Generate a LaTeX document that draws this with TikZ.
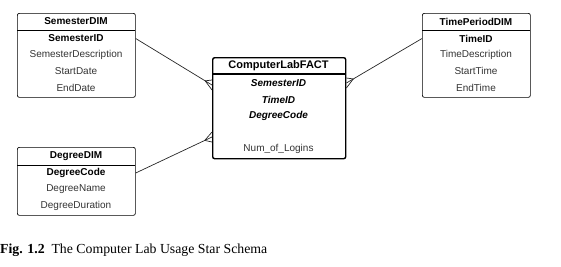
\documentclass[tikz,border=0pt]{standalone}
\usepackage{fontspec}
\setmainfont{Liberation Sans}
\newfontfamily\capfont{Liberation Serif}
\usetikzlibrary{arrows.meta,calc}

\definecolor{rowgray}{HTML}{333333}

\tikzset{
  dimbox/.style={draw, rounded corners=2pt, line width=0.7pt, anchor=north west,
    inner sep=0pt, minimum width=118pt, minimum height=84pt},
  factbox/.style={draw, rounded corners=2pt, line width=1.4pt, anchor=north west,
    inner sep=0pt, minimum width=133pt, minimum height=101pt},
  title/.style={font=\bfseries\fontsize{10}{12}\selectfont, inner sep=1pt},
  keyrow/.style={font=\bfseries\fontsize{10}{12}\selectfont, inner sep=1pt},
  fkrow/.style={font=\bfseries\itshape\fontsize{10}{12}\selectfont, inner sep=1pt},
  row/.style={font=\fontsize{10}{12}\selectfont, text=rowgray, inner sep=1pt},
  rel/.style={line width=0.7pt, draw=black!85}
}

% crow's foot at the many end #2 of a line coming from #1
\newcommand{\crowfoot}[2]{%
  \draw[rel] ($(#2)!8pt!(#1)$) -- ($(#2)+(0,-5)$);
  \draw[rel] ($(#2)!8pt!(#1)$) -- ($(#2)+(0,5)$);
}

\begin{document}
\begin{tikzpicture}[x=1pt,y=-1pt]
  \useasboundingbox (0,0) rectangle (561,266);

  % semester dimension
  \node[dimbox] (sem) at (17,13) {};
  \draw[line width=0.7pt] (17,30) -- (135,30);
  \node[title] (semtitle) at (76,21.5) {SemesterDIM};
  \node[keyrow] (semkey) at (76,38.5) {SemesterID};
  \node[row] (semdesc) at (76,54.5) {SemesterDescription};
  \node[row] (semstart) at (76,71) {StartDate};
  \node[row] (semend) at (76,87.5) {EndDate};

  % time period dimension
  \node[dimbox, minimum width=108pt] (time) at (422,13) {};
  \draw[line width=0.7pt] (422,30) -- (530,30);
  \node[title] (timetitle) at (476,21.5) {TimePeriodDIM};
  \node[keyrow] (timekey) at (476,38.5) {TimeID};
  \node[row] (timedesc) at (476,54.5) {TimeDescription};
  \node[row] (timestart) at (476,71) {StartTime};
  \node[row] (timeend) at (476,87.5) {EndTime};

  % degree dimension
  \node[dimbox, minimum height=68pt] (deg) at (17,147) {};
  \draw[line width=0.7pt] (17,165) -- (135,165);
  \node[title] (degtitle) at (76,156) {DegreeDIM};
  \node[keyrow] (degkey) at (76,173) {DegreeCode};
  \node[row] (degname) at (76,189.5) {DegreeName};
  \node[row] (degdur) at (76,206) {DegreeDuration};

  % fact table
  \node[factbox] (fact) at (212,57) {};
  \draw[line width=1.4pt] (212,74) -- (345,74);
  \node[title, font=\bfseries\fontsize{11}{13}\selectfont] (facttitle) at (278.5,65.5) {ComputerLabFACT};
  \node[fkrow] (factsem) at (278.5,83) {SemesterID};
  \node[fkrow] (facttime) at (278.5,99.5) {TimeID};
  \node[fkrow] (factdeg) at (278.5,116) {DegreeCode};
  \node[row] (factlogins) at (278.5,149) {Num\_of\_Logins};

  % relationships
  \coordinate (semout) at (sem.east |- semkey);
  \coordinate (timeout) at (time.west |- timekey);
  \coordinate (degout) at (deg.east |- degkey);
  \coordinate (factinsem) at (fact.west |- 0,85);
  \coordinate (factintime) at (fact.east |- 0,83);
  \coordinate (factindeg) at (fact.west |- 0,137);
  \draw[rel] (semout) -- (factinsem);
  \draw[rel] (timeout) -- (factintime);
  \draw[rel] (degout) -- (factindeg);
  \crowfoot{semout}{factinsem}
  \crowfoot{timeout}{factintime}
  \crowfoot{degout}{factindeg}

  \node[anchor=base west, inner sep=0pt, font=\capfont\fontsize{13.8}{16}\selectfont] (caption) at (0,253)
    {\textbf{Fig. 1.2}\enspace The Computer Lab Usage Star Schema};
\end{tikzpicture}
\end{document}
